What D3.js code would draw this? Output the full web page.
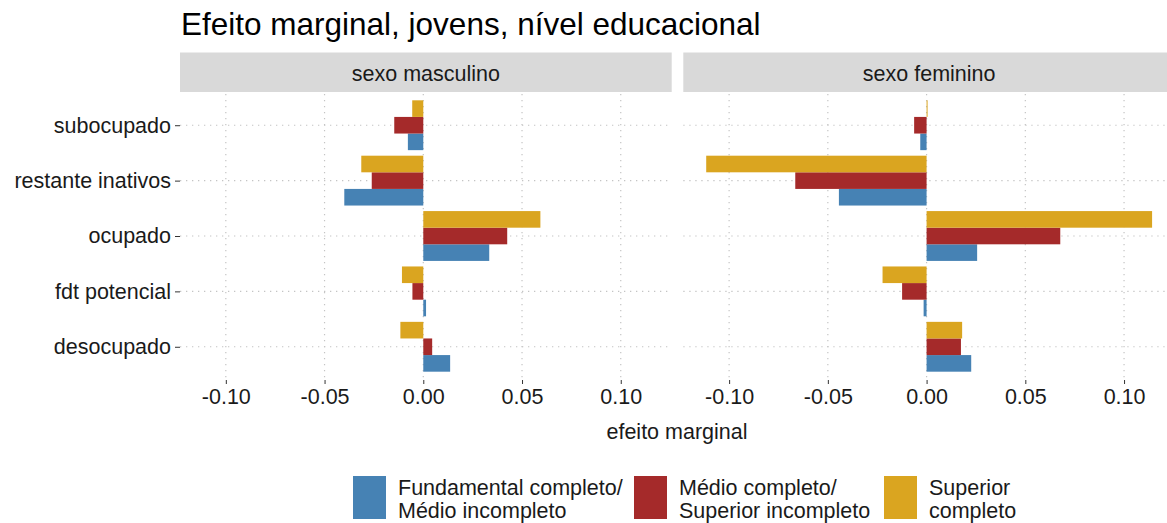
<!DOCTYPE html>
<html>
<head>
<meta charset="utf-8">
<script src="https://cdn.jsdelivr.net/npm/d3@7"></script>
<style>
  body { margin: 0; background: #fff; }
  svg { display: block; font-family: "Liberation Sans", Arial, sans-serif; }
</style>
</head>
<body>
<svg id="chart" width="1167" height="523"></svg>
<script>
// categories, top to bottom
const categories = ["subocupado", "restante inativos", "ocupado", "fdt potencial", "desocupado"];
const panels = ["sexo masculino", "sexo feminino"];
const groups = ["Fundamental completo/\nMédio incompleto", "Médio completo/\nSuperior incompleto", "Superior\ncompleto"];
const colors = ["#4682B4", "#A52A2A", "#DAA520"];
const ticks = [-0.10, -0.05, 0.00, 0.05, 0.10];

// values per group, in category order
const mascFund = [-0.0078, -0.0400, 0.0334, 0.0014, 0.0136];
const mascMedio = [-0.0147, -0.0261, 0.0425, -0.0055, 0.0045];
const mascSup = [-0.0056, -0.0314, 0.0593, -0.0108, -0.0116];
const femFund = [-0.0032, -0.0444, 0.0256, -0.0015, 0.0226];
const femMedio = [-0.0063, -0.0665, 0.0677, -0.0124, 0.0174];
const femSup = [0.0005, -0.1116, 0.1142, -0.0223, 0.0180];

const series = [
  [mascFund, mascMedio, mascSup],
  [femFund, femMedio, femSup]
];

const svg = d3.select("#chart");
const panelW = 491.7, gap = 3.6;
const plotTop = 92, plotBottom = 380;
const left0 = 180;
const domain = [-0.1232, 0.1258];
const fs = 21.5;

const y = d3.scalePoint().domain(categories).range([plotTop, plotBottom]).padding(0.6);
const step = y.step();
// Superior on top, Fundamental at bottom
const inner = d3.scaleBand().domain([2, 1, 0]).range([-0.45 * step, 0.45 * step]);

svg.append("text")
  .attr("x", 181).attr("y", 35)
  .attr("font-size", 31.5).attr("fill", "#000")
  .text("Efeito marginal, jovens, nível educacional");

panels.forEach((name, p) => {
  const x0 = left0 + p * (panelW + gap + 8);
  const x = d3.scaleLinear().domain(domain).range([x0, x0 + panelW]);
  const g = svg.append("g");

  // strip
  g.append("rect")
    .attr("x", x0).attr("y", 52.5).attr("width", panelW).attr("height", plotTop - 52.5)
    .attr("fill", "#d9d9d9");
  g.append("text")
    .attr("x", x0 + panelW / 2).attr("y", 81)
    .attr("text-anchor", "middle").attr("font-size", fs).attr("fill", "#1a1a1a")
    .text(name);

  // grid
  g.selectAll(".vg").data(ticks).join("line")
    .attr("x1", d => x(d)).attr("x2", d => x(d))
    .attr("y1", plotTop + 2).attr("y2", plotBottom)
    .attr("stroke", "#c4c4c4").attr("stroke-width", 1.2)
    .attr("stroke-dasharray", "1.3,4.7");
  g.selectAll(".hg").data(categories).join("line")
    .attr("x1", x0).attr("x2", x0 + panelW)
    .attr("y1", d => y(d)).attr("y2", d => y(d))
    .attr("stroke", "#c4c4c4").attr("stroke-width", 1.2)
    .attr("stroke-dasharray", "1.3,4.7");

  // bars
  series[p].forEach((vals, gi) => {
    g.selectAll(".b" + gi).data(vals).join("rect")
      .attr("x", d => x(Math.min(0, d)))
      .attr("width", d => Math.abs(x(d) - x(0)))
      .attr("y", (d, i) => y(categories[i]) + inner(gi))
      .attr("height", inner.bandwidth())
      .attr("fill", colors[gi]);
  });

  // x axis
  const xa = g.append("g").attr("transform", `translate(0,${plotBottom})`)
    .call(d3.axisBottom(x).tickValues(ticks).tickFormat(d3.format(".2f")).tickSize(4).tickPadding(5));
  xa.select(".domain").remove();
  xa.selectAll("line").attr("stroke", "#333");
  xa.selectAll("text").attr("font-size", fs).attr("fill", "#1a1a1a")
    .attr("font-family", "Liberation Sans, Arial, sans-serif")
    .text(d => d3.format(".2f")(d).replace("−", "-"));

  if (p === 0) {
    const ya = g.append("g").attr("transform", `translate(${x0},0)`)
      .call(d3.axisLeft(y).tickSize(5).tickPadding(4));
    ya.select(".domain").remove();
    ya.selectAll("line").attr("stroke", "#333");
    ya.selectAll("text").attr("font-size", fs).attr("fill", "#1a1a1a")
      .attr("font-family", "Liberation Sans, Arial, sans-serif");
  }
});

svg.append("text")
  .attr("x", 677).attr("y", 439)
  .attr("text-anchor", "middle").attr("font-size", fs).attr("fill", "#1a1a1a")
  .text("efeito marginal");

// legend
const legendX = [353, 634, 884];
groups.forEach((label, i) => {
  const lg = svg.append("g").attr("transform", `translate(${legendX[i]},476)`);
  lg.append("rect").attr("width", 33).attr("height", 43).attr("fill", colors[i]);
  label.split("\n").forEach((line, j) => {
    lg.append("text")
      .attr("x", 45).attr("y", 19 + j * 23)
      .attr("font-size", fs).attr("fill", "#1a1a1a")
      .text(line);
  });
});
</script>
</body>
</html>
